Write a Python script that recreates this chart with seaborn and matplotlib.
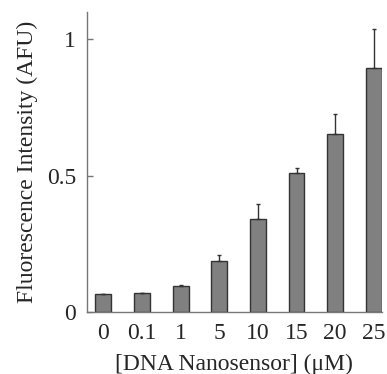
import matplotlib
matplotlib.use("Agg")
import matplotlib.pyplot as plt
import numpy as np
import pandas as pd
import seaborn as sns

# 讀圖估計的數值
concentrations = ["0", "0.1", "1", "5", "10", "15", "20", "25"]
intensity = [0.067, 0.070, 0.095, 0.188, 0.342, 0.508, 0.652, 0.895]
error = [0.0, 0.0, 0.003, 0.019, 0.052, 0.018, 0.073, 0.142]

sns.set_theme(style="ticks")
plt.rcParams["font.family"] = ["Liberation Serif", "DejaVu Serif"]

df = pd.DataFrame({"conc": concentrations, "val": intensity})

fig = plt.figure(figsize=(3.87, 3.74), dpi=100)
ax = fig.add_axes([0.225, 0.166, 0.761, 0.802])

sns.barplot(data=df, x="conc", y="val", order=concentrations, color="#808080",
            saturation=1, width=0.41, edgecolor="#333333", linewidth=1, ax=ax)

pos = np.arange(len(concentrations))
ax.errorbar(pos, intensity, yerr=[np.zeros(len(error)), error], fmt="none",
            ecolor="#333333", elinewidth=1, capsize=1.5, capthick=1)

ax.set_xlim(-0.42, 7.2)
ax.set_ylim(0, 1.1)
ax.set_yticks([0, 0.5, 1])
ax.set_yticklabels(["0", "0.5", "1"])
ax.set_xlabel("[DNA Nanosensor] (μM)", fontsize=17, labelpad=7)
ax.set_ylabel("Fluorescence Intensity (AFU)", fontsize=17, labelpad=6)
ax.tick_params(axis="both", direction="in", labelsize=17, length=4,
               color="#777777", width=1, pad=8)

sns.despine(ax=ax)
for side in ["left", "bottom"]:
    ax.spines[side].set_color("#777777")
    ax.spines[side].set_linewidth(1)

fig.savefig("out.png", dpi=100)
